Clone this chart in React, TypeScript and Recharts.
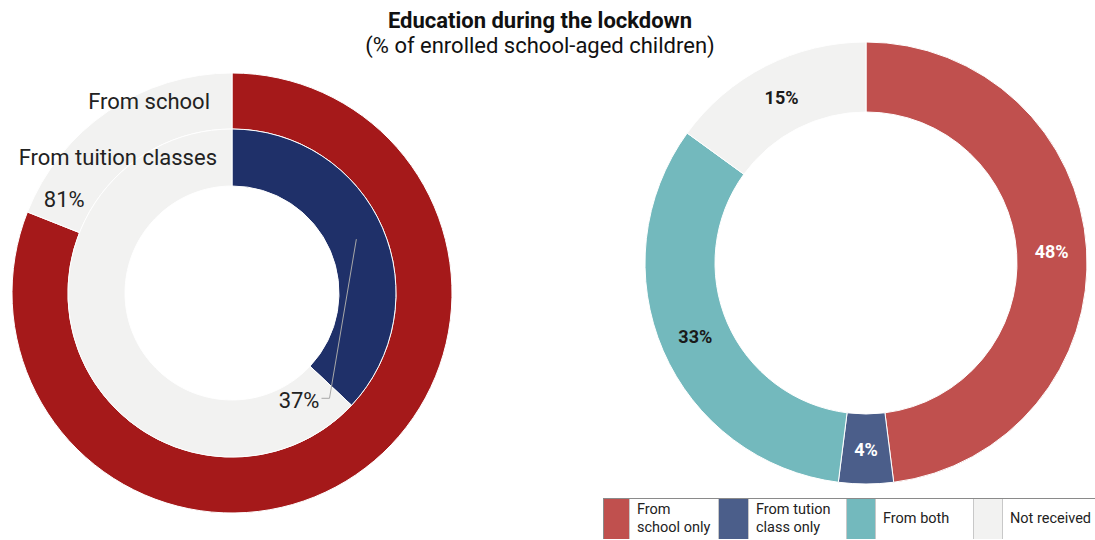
import React from "react";
import { PieChart, Pie, Cell } from "recharts";

// left: share of children getting education, by source
const schoolData = [
  { name: "Received", value: 81 },
  { name: "Not received", value: 19 }
];
const tuitionData = [
  { name: "Received", value: 37 },
  { name: "Not received", value: 63 }
];
const ringNames = ["From school", "From tuition classes"];

// right: breakdown
const breakdownData = [
  { name: "From school only", value: 48 },
  { name: "From tution class only", value: 4 },
  { name: "From both", value: 33 },
  { name: "Not received", value: 15 }
];
const legendLabels = [
  ["From", "school only"],
  ["From tution", "class only"],
  ["From both"],
  ["Not received"]
];

const SCHOOL_COLORS = ["#a5191a", "#f2f2f1"];
const TUITION_COLORS = ["#1f3069", "#f2f2f1"];
const BREAKDOWN_COLORS = ["#c0504e", "#4b5e8a", "#73b9bd", "#f2f2f1"];
const BREAKDOWN_TEXT = ["#ffffff", "#ffffff", "#1a1a1a", "#1a1a1a"];

const RADIAN = Math.PI / 180;
const FONT = "Roboto, 'Noto Sans', sans-serif";

const polar = (cx: number, cy: number, r: number, angle: number) => ({
  x: cx + r * Math.cos(-angle * RADIAN),
  y: cy + r * Math.sin(-angle * RADIAN)
});

const schoolLabel = (props: any) => {
  const { cx, cy, innerRadius, outerRadius, endAngle, index, value } = props;
  const r = (innerRadius + outerRadius) / 2;
  if (index === 0) {
    const p = polar(cx, cy, r, endAngle - 7.5);
    return (
      <text x={p.x} y={p.y} textAnchor="middle" dominantBaseline="central" fontSize={22} fill="#222" fontFamily={FONT}>
        {value}%
      </text>
    );
  }
  return (
    <text x={cx - 22} y={cy - r} textAnchor="end" dominantBaseline="central" fontSize={22} fill="#222" fontFamily={FONT}>
      {ringNames[0]}
    </text>
  );
};

const tuitionLabel = (props: any) => {
  const { cx, cy, innerRadius, outerRadius, midAngle, endAngle, index, value } = props;
  const r = (innerRadius + outerRadius) / 2;
  if (index === 0) {
    const start = polar(cx, cy, r, midAngle);
    const elbow = polar(cx, cy, r + 8, endAngle - 4);
    return (
      <g>
        <polyline
          points={`${start.x},${start.y} ${elbow.x},${elbow.y} ${elbow.x - 8},${elbow.y}`}
          fill="none"
          stroke="#a8a8a8"
          strokeWidth={1}
        />
        <text x={elbow.x - 10} y={elbow.y + 2} textAnchor="end" dominantBaseline="central" fontSize={22} fill="#222" fontFamily={FONT}>
          {value}%
        </text>
      </g>
    );
  }
  return (
    <text x={cx - 15} y={cy - r} textAnchor="end" dominantBaseline="central" fontSize={22} fill="#222" fontFamily={FONT}>
      {ringNames[1]}
    </text>
  );
};

const breakdownLabel = (props: any) => {
  const { cx, cy, innerRadius, outerRadius, midAngle, index, value } = props;
  const p = polar(cx, cy, (innerRadius + outerRadius) / 2, midAngle);
  return (
    <text x={p.x} y={p.y} textAnchor="middle" dominantBaseline="central" fontSize={18} fontWeight={700} fill={BREAKDOWN_TEXT[index]} fontFamily={FONT}>
      {value}%
    </text>
  );
};

const swatchWidths = [26, 31, 30, 30];
const textWidths = [88, 97, 97, 92];

const LegendTable = () => (
  <div
    style={{
      position: "absolute",
      left: 603,
      top: 498,
      height: 41,
      display: "flex",
      border: "1px solid #8a8a8a",
      borderBottom: "none",
      boxSizing: "border-box",
      fontFamily: FONT,
      fontSize: 14.5,
      lineHeight: "18px",
      color: "#222"
    }}
  >
    {breakdownData.map((d, i) => (
      <React.Fragment key={d.name}>
        <div
          style={{
            width: swatchWidths[i],
            flex: "none",
            boxSizing: "border-box",
            background: BREAKDOWN_COLORS[i],
            borderRight: "1px solid #c8c8c8",
            borderLeft: i > 0 ? "1px solid #c8c8c8" : "none"
          }}
        />
        <div
          style={{
            width: textWidths[i],
            flex: "none",
            padding: "0 0 0 7px",
            boxSizing: "border-box",
            display: "flex",
            flexDirection: "column",
            justifyContent: "center",
            whiteSpace: "nowrap"
          }}
        >
          {legendLabels[i].map((line) => (
            <div key={line}>{line}</div>
          ))}
        </div>
      </React.Fragment>
    ))}
  </div>
);

export default function App() {
  return (
    <div style={{ position: "relative", width: 1095, height: 540, background: "#fff", overflow: "hidden" }}>
      <style>{"body{margin:0}"}</style>
      <PieChart width={1095} height={540} margin={{ top: 0, right: 0, bottom: 0, left: 0 }}>
        <Pie
          data={schoolData}
          dataKey="value"
          cx={232}
          cy={293}
          innerRadius={164}
          outerRadius={220}
          startAngle={90}
          endAngle={-270}
          stroke="#fff"
          strokeWidth={1}
          label={schoolLabel}
          labelLine={false}
          isAnimationActive={false}
        >
          {schoolData.map((d, i) => (
            <Cell key={d.name} fill={SCHOOL_COLORS[i]} />
          ))}
        </Pie>
        <Pie
          data={tuitionData}
          dataKey="value"
          cx={232}
          cy={293}
          innerRadius={107}
          outerRadius={164}
          startAngle={90}
          endAngle={-270}
          stroke="#fff"
          strokeWidth={1}
          label={tuitionLabel}
          labelLine={false}
          isAnimationActive={false}
        >
          {tuitionData.map((d, i) => (
            <Cell key={d.name} fill={TUITION_COLORS[i]} />
          ))}
        </Pie>
        <Pie
          data={breakdownData}
          dataKey="value"
          cx={866}
          cy={263}
          innerRadius={151}
          outerRadius={221}
          startAngle={90}
          endAngle={-270}
          stroke="#fff"
          strokeWidth={1}
          label={breakdownLabel}
          labelLine={false}
          isAnimationActive={false}
        >
          {breakdownData.map((d, i) => (
            <Cell key={d.name} fill={BREAKDOWN_COLORS[i]} />
          ))}
        </Pie>
      </PieChart>
      <div
        style={{
          position: "absolute",
          left: 290,
          width: 500,
          top: 8,
          textAlign: "center",
          fontFamily: FONT,
          color: "#111",
          fontSize: 22,
          lineHeight: "25px"
        }}
      >
        <div style={{ fontWeight: 700 }}>Education during the lockdown</div>
        <div>(% of enrolled school-aged children)</div>
      </div>
      <LegendTable />
    </div>
  );
}
